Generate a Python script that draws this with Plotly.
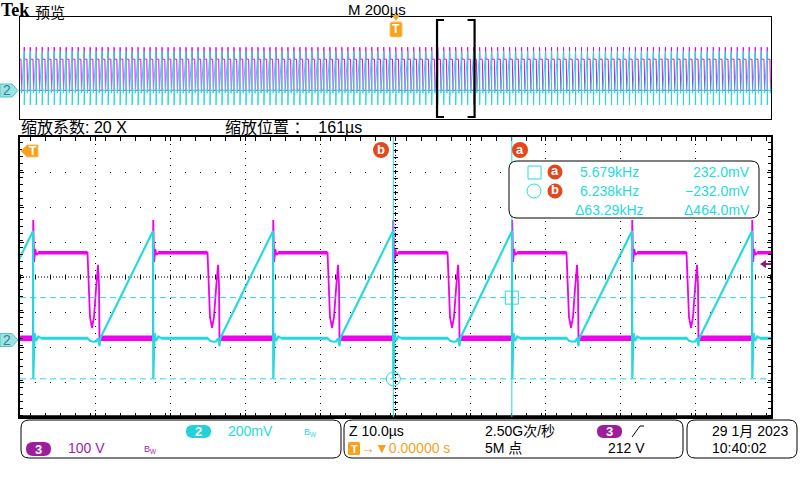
import plotly.graph_objects as go

W, H = 800, 480

# ---------------- values ----------------
record_range_us = [-1000.0, 1000.0]     # overview: M 200 µs/div x 10 div
zoom_center_us = 160.6                  # 缩放位置 161 µs
zoom_span_us = 100.0                    # Z 10.0 µs/div x 10 div

# instants where the CH2 ramp resets (one per switching cycle) inside the zoom window
cycle_resets_us = [112.33, 128.31, 144.29, 160.27, 176.11, 192.09, 208.07]

# CH2 (cyan, 200 mV/div): one cycle, offsets from the reset instant
ch2_offsets_us = [0.00, 0.04, 0.20, 0.40, 0.70, 1.10, 7.30, 7.60, 8.00, 8.40, 8.70, 8.85, 8.95]
ch2_mv = [613, -230, 30, -15, 10, 0, 0, -15, -20, -18, 0, -45, 0]

# CH3 (magenta, 100 V/div): one cycle, offsets from the reset instant
ch3_offsets_us = [-0.02, 0.03, 0.15, 0.30, 0.45, 0.70, 7.26, 7.39, 7.59, 7.86, 8.12, 8.39, 8.66, 8.79, 8.85]
ch3_v = [0, 338, 218, 255, 238, 244, 244, 140, 60, 30, 60, 140, 210, 150, 0]

ch2_mv_per_div = 200.0
ch3_v_per_div = 100.0
ground_pos_div = -1.75          # ground marker position of both channels

cursor_a_us, cursor_b_us = 176.09, 160.31
cursor_a_mv, cursor_b_mv = 232.0, -232.0
trigger_level_v = 212.0

readout_freq = ["5.679kHz", "6.238kHz", "\u039463.29kHz"]
readout_volt = ["232.0mV", "\u2212232.0mV", "\u0394464.0mV"]

# ---------------- styling ----------------
CY = "#27d9df"
MAG = "#f000f0"
PUR = "#9c1e9c"
ORG = "#f6a21d"
RED = "#e5471c"
FONT = "Liberation Sans, Noto Sans CJK SC, DejaVu Sans"
CJK = "Noto Sans CJK SC, Liberation Sans"


def X(x):
    return x / W


def Y(y):
    return 1 - y / H


# ---------------- build the record ----------------
period = (cycle_resets_us[-1] - cycle_resets_us[0]) / (len(cycle_resets_us) - 1)
before, after = [], []
r = cycle_resets_us[0] - period
while r > record_range_us[0] - period:
    before.append(r)
    r -= period
r = cycle_resets_us[-1] + period
while r < record_range_us[1] + period:
    after.append(r)
    r += period
resets = sorted(before) + cycle_resets_us + after


def build(offsets, values):
    xs, ys = [], []
    for rr in resets:
        for o, v in zip(offsets, values):
            xs.append(rr + o)
            ys.append(v)
    return xs, ys


def band(i0, i1, offsets, values, to_next=False):
    xs, ys = [], []
    for k, rr in enumerate(resets):
        if to_next:
            if k + 1 >= len(resets):
                continue
            a, b = rr + offsets[i0], resets[k + 1] + offsets[i1]
        else:
            a, b = rr + offsets[i0], rr + offsets[i1]
        xs += [a, b, None]
        ys += [values[i0], values[i0], None]
    return xs, ys


t2, v2 = build(ch2_offsets_us, ch2_mv)
t3, v3 = build(ch3_offsets_us, ch3_v)
b3hx, b3hy = band(5, 6, ch3_offsets_us, ch3_v)
b3lx, b3ly = band(len(ch3_v) - 1, 0, ch3_offsets_us, ch3_v, to_next=True)
b2x, b2y = band(5, 6, ch2_offsets_us, ch2_mv)

ch2_range = [(-4 - ground_pos_div) * ch2_mv_per_div, (4 - ground_pos_div) * ch2_mv_per_div]
ch3_range = [(-4 - ground_pos_div) * ch3_v_per_div, (4 - ground_pos_div) * ch3_v_per_div]
zoom_range = [zoom_center_us - zoom_span_us / 2, zoom_center_us + zoom_span_us / 2]

fig = go.Figure()
common = dict(mode="lines", hoverinfo="skip", showlegend=False)
# main (zoomed) window: CH3 on y, CH2 on y3 (drawn above)
fig.add_trace(go.Scatter(x=t3, y=v3, line=dict(color=MAG, width=1.8), xaxis="x", yaxis="y", **common))
fig.add_trace(go.Scatter(x=b3lx, y=b3ly, line=dict(color=MAG, width=5.5), xaxis="x", yaxis="y", **common))
fig.add_trace(go.Scatter(x=b3hx, y=b3hy, line=dict(color=MAG, width=3.5), xaxis="x", yaxis="y", **common))
fig.add_trace(go.Scatter(x=t2, y=v2, line=dict(color=CY, width=2.2), xaxis="x", yaxis="y3", **common))
fig.add_trace(go.Scatter(x=b2x, y=b2y, line=dict(color=CY, width=3), xaxis="x", yaxis="y3", **common))
fig.add_trace(go.Scatter(x=[cursor_a_us], y=[cursor_a_mv], mode="markers", xaxis="x", yaxis="y3",
                         marker=dict(symbol="square-open", size=13, color=CY, line=dict(width=1)),
                         hoverinfo="skip", showlegend=False))
fig.add_trace(go.Scatter(x=[cursor_b_us], y=[cursor_b_mv], mode="markers", xaxis="x", yaxis="y3",
                         marker=dict(symbol="circle-open", size=14, color=CY, line=dict(width=1)),
                         hoverinfo="skip", showlegend=False))
# overview
fig.add_trace(go.Scatter(x=t3, y=v3, line=dict(color=MAG, width=1), xaxis="x2", yaxis="y2", **common))
fig.add_trace(go.Scatter(x=t2, y=v2, line=dict(color=CY, width=1), xaxis="x2", yaxis="y4", **common))

main_dom_x = [X(20), X(771)]
main_dom_y = [Y(417), Y(137)]
ov_dom_y = [Y(119), Y(17)]

tick_common = dict(ticks="inside", ticklen=4, tickcolor="#000", tickwidth=1, showticklabels=False,
                   showline=True, linecolor="#000", linewidth=1.5, mirror="allticks",
                   zeroline=False, fixedrange=True, showgrid=True, gridcolor="#000", gridwidth=1)
plain = dict(showgrid=False, zeroline=False, showticklabels=False, ticks="", showline=True,
             linecolor="#000", linewidth=1, mirror=True, fixedrange=True)

fig.update_layout(
    width=W, height=H, margin=dict(l=0, r=0, t=0, b=0),
    paper_bgcolor="white", plot_bgcolor="white", showlegend=False,
    xaxis=dict(domain=main_dom_x, range=zoom_range, anchor="y", tick0=zoom_range[0],
               dtick=zoom_span_us / 10, griddash="1px,6px",
               minor=dict(dtick=zoom_span_us / 50, ticks="inside", ticklen=3, tickcolor="#000", showgrid=False),
               **tick_common),
    yaxis=dict(domain=main_dom_y, range=ch3_range, anchor="x", tick0=ch3_range[0],
               dtick=ch3_v_per_div, griddash="1px,14px",
               minor=dict(dtick=ch3_v_per_div / 5, ticks="inside", ticklen=3, tickcolor="#000", showgrid=False),
               **tick_common),
    yaxis3=dict(overlaying="y", anchor="x", range=ch2_range, visible=False, fixedrange=True),
    xaxis2=dict(domain=main_dom_x, range=record_range_us, anchor="y2", **plain),
    yaxis2=dict(domain=ov_dom_y, range=ch3_range, anchor="x2", **plain),
    yaxis4=dict(overlaying="y2", anchor="x2", range=ch2_range, visible=False, fixedrange=True),
)

shapes = []
ann = []


def rrect(x0, y0, x1, y1, r):
    P = lambda x, y: f"{X(x):.5f},{Y(y):.5f}"
    return (f"M {P(x0 + r, y0)} L {P(x1 - r, y0)} Q {P(x1, y0)} {P(x1, y0 + r)} "
            f"L {P(x1, y1 - r)} Q {P(x1, y1)} {P(x1 - r, y1)} L {P(x0 + r, y1)} "
            f"Q {P(x0, y1)} {P(x0, y1 - r)} L {P(x0, y0 + r)} Q {P(x0, y0)} {P(x0 + r, y0)} Z")


def poly(pts):
    return "M " + " L ".join(f"{X(x):.5f},{Y(y):.5f}" for x, y in pts) + " Z"


def add_path(path, fill=None, color=None, width=1, layer="above"):
    shapes.append(dict(type="path", xref="paper", yref="paper", path=path,
                       fillcolor=fill if fill else "rgba(0,0,0,0)",
                       line=dict(color=color if color else "rgba(0,0,0,0)", width=width if color else 0),
                       layer=layer))


def txt(x, y, s, size=14, color="#000", anchor="left", family=FONT, pad=1, vanchor="middle"):
    ann.append(dict(x=X(x), y=Y(y), xref="paper", yref="paper", text=s, showarrow=False,
                    xanchor=anchor, yanchor=vanchor, borderpad=pad,
                    font=dict(size=size, color=color, family=family)))


def badge(cx, cy, letter, r=8):
    shapes.append(dict(type="circle", xref="paper", yref="paper", x0=X(cx - r), x1=X(cx + r),
                       y0=Y(cy + r), y1=Y(cy - r), fillcolor=RED, line=dict(width=0), layer="above"))
    txt(cx, cy - 1, f"<b>{letter}</b>", size=13, color="white", anchor="center")


# graticule centre lines (main window)
xc = zoom_center_us
yc = (ch3_range[0] + ch3_range[1]) / 2
shapes += [
    dict(type="line", xref="x", yref="y domain", x0=xc, x1=xc, y0=0, y1=1,
         line=dict(color="#000", width=1, dash="1px,2px"), layer="below"),
    dict(type="line", xref="x", yref="y domain", x0=xc, x1=xc, y0=0, y1=1,
         line=dict(color="#000", width=5, dash="1px,6px"), layer="below"),
    dict(type="line", xref="x domain", yref="y", x0=0, x1=1, y0=yc, y1=yc,
         line=dict(color="#000", width=1, dash="1px,2px"), layer="below"),
    dict(type="line", xref="x domain", yref="y", x0=0, x1=1, y0=yc, y1=yc,
         line=dict(color="#000", width=5, dash="1px,14px"), layer="below"),
    dict(type="line", xref="x domain", yref="y domain", x0=0, x1=1, y0=0, y1=0,
         line=dict(color="#000", width=3.5), layer="above"),
]

# cursors
for t in (cursor_a_us, cursor_b_us):
    shapes.append(dict(type="line", xref="x", yref="y domain", x0=t, x1=t, y0=0, y1=1,
                       line=dict(color=CY, width=1), layer="above"))
for mv in (cursor_a_mv, cursor_b_mv):
    shapes.append(dict(type="line", xref="x domain", yref="y3", x0=0, x1=1, y0=mv, y1=mv,
                       line=dict(color=CY, width=1, dash="6px,4px"), layer="above"))

# zoom bracket on the overview
serif = 7 * (record_range_us[1] - record_range_us[0]) / 751
for xb, s in ((zoom_range[0], serif), (zoom_range[1], -serif)):
    shapes.append(dict(type="path", xref="x2", yref="paper",
                       path=f"M {xb + s},{Y(20):.5f} L {xb},{Y(20):.5f} L {xb},{Y(117):.5f} L {xb + s},{Y(117):.5f}",
                       line=dict(color="#000", width=2.2), layer="above"))

# trigger level arrow (CH3) at right edge
dv = 4 * ch3_v_per_div / 35
shapes.append(dict(type="path", xref="paper", yref="y",
                   path=f"M {X(760):.5f},{trigger_level_v} L {X(766):.5f},{trigger_level_v + dv} "
                        f"L {X(766):.5f},{trigger_level_v - dv} Z",
                   fillcolor="#8b1a8b", line=dict(width=0), layer="above"))
shapes.append(dict(type="line", xref="paper", yref="y", x0=X(765), x1=X(771),
                   y0=trigger_level_v, y1=trigger_level_v, line=dict(color="#8b1a8b", width=2), layer="above"))

# trigger "T" markers
add_path(poly([(392, 15), (400, 15), (396, 21)]), fill=ORG)
add_path(rrect(390, 22, 402, 37, 2), fill=ORG, color="#f8c070", width=1)
txt(396, 29.5, "<b>T</b>", size=12, color="white", anchor="center")
add_path(poly([(21, 151), (27, 145), (38, 145), (38, 157), (27, 157)]), fill=ORG, color="#f8c070", width=1)
txt(32.5, 151, "<b>T</b>", size=12, color="white", anchor="center")

# channel 2 ground markers
for yc2 in (90.5, 340):
    add_path(poly([(0, yc2 - 6.5), (12, yc2 - 6.5), (18, yc2), (12, yc2 + 6.5), (0, yc2 + 6.5)]),
             fill="#9ae4e6", color="#55c4ca", width=1)
    txt(7, yc2, "2", size=14, color="#3f8088", anchor="center")

# cursor badges
badge(520, 150, "a")
badge(381, 150, "b")

# readout box
add_path(rrect(509, 161, 759, 218, 8), fill="white", color="#000", width=1)
shapes.append(dict(type="rect", xref="paper", yref="paper", x0=X(528), x1=X(541), y0=Y(179), y1=Y(166),
                   line=dict(color=CY, width=1), layer="above"))
shapes.append(dict(type="circle", xref="paper", yref="paper", x0=X(527), x1=X(541), y0=Y(198), y1=Y(184),
                   line=dict(color=CY, width=1), layer="above"))
badge(555, 172, "a", r=7.5)
badge(555, 191, "b", r=7.5)
for i, (fs, vs) in enumerate(zip(readout_freq, readout_volt)):
    yy = 172 + 19 * i
    txt(578 if i < 2 else 573, yy, fs, size=14, color=CY)
    txt(752, yy, vs, size=14, color=CY, anchor="right")

# header texts
txt(0, 10.5, "<b>Tek</b>", size=18, family="Liberation Serif", pad=0)
txt(34, 0.2, "预览", size=15, family=CJK, pad=0, vanchor="top")
txt(347, 9, "M 200µs", size=15, pad=0)
txt(19, 128, "缩放系数: 20 X", size=16)
txt(223, 128, "缩放位置 ：  161µs", size=16)

# bottom panels
add_path(rrect(21, 420, 341, 458, 8), color="#000", width=1)
add_path(rrect(344, 420, 683, 458, 8), color="#000", width=1)
add_path(rrect(687, 420, 797, 458, 8), color="#000", width=1)

add_path(rrect(186, 425, 211, 438, 6.5), fill="#22d2d8")
txt(198.5, 431.5, "<b>2</b>", size=13, color="white", anchor="center")
txt(226, 431, "200mV", size=14, color=CY)
txt(302, 432, "B<sub>W</sub>", size=9, color=CY)
add_path(rrect(26, 442, 51, 456, 7), fill=PUR)
txt(38.5, 449, "<b>3</b>", size=13, color="white", anchor="center")
txt(66, 448, "100 V", size=14, color=PUR)
txt(142, 449, "B<sub>W</sub>", size=9, color=PUR)

txt(347, 431, "Z 10.0µs", size=14)
add_path(rrect(348, 442, 360, 455, 1.5), fill=ORG)
txt(354, 448.5, "<b>T</b>", size=11, color="white", anchor="center")
txt(359, 448, "→▼0.00000 s", size=14, color=ORG)
txt(483, 431, "2.50G次/秒", size=14)
txt(483, 448, "5M 点", size=14)
add_path(rrect(597, 425, 622, 438, 6.5), fill=PUR)
txt(609.5, 431.5, "<b>3</b>", size=13, color="white", anchor="center")
shapes.append(dict(type="path", xref="paper", yref="paper",
                   path=f"M {X(632):.5f},{Y(437):.5f} L {X(640):.5f},{Y(426):.5f} L {X(644):.5f},{Y(426):.5f}",
                   line=dict(color="#000", width=1), layer="above"))
txt(606, 448, "212 V", size=14)

txt(710, 431, "29 1月 2023", size=14)
txt(710, 448, "10:40:02", size=14)

fig.update_layout(shapes=shapes, annotations=ann)
fig.write_html("out.html", config={"displayModeBar": False},
               post_script="document.body.style.margin='0';document.body.style.overflow='hidden';")
